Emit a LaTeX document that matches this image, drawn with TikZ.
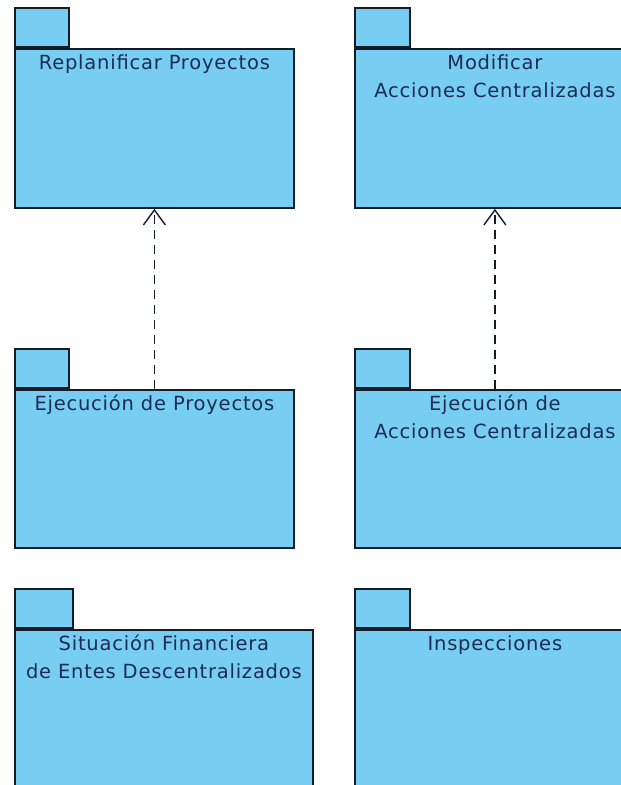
\documentclass[tikz,border=0pt]{standalone}
\usepackage{fontspec}
\setmainfont{DejaVu Sans}[LetterSpace=4.0]
\usetikzlibrary{arrows.meta}
\definecolor{pkgfill}{RGB}{120,205,242}
\definecolor{pkgtext}{RGB}{28,44,84}
\definecolor{pkgline}{RGB}{20,28,40}
\tikzset{
  pkgbody/.style={draw=pkgline, fill=pkgfill, line width=1.8pt, rectangle, inner sep=0pt, anchor=north west},
  pkgtab/.style={draw=pkgline, fill=pkgfill, line width=1.8pt, rectangle, inner sep=0pt, anchor=south west, minimum height=39pt},
  pkglabel/.style={anchor=north, inner sep=0pt, text=pkgtext, font=\fontsize{19.5}{28}\selectfont, align=center, yshift=-6pt},
  dep/.style={draw=pkgline, line width=1.4pt, dash pattern=on 9pt off 6pt, -{Straight Barb[length=15pt,width=22pt,line width=1.4pt]}}
}
\begin{document}
\begin{tikzpicture}[x=1pt,y=-1pt]
\useasboundingbox (0,0) rectangle (621,785);
\clip (0,0) rectangle (621,785);
\fill[white] (0,0) rectangle (621,785);
% row 1
\node[pkgbody, minimum width=279pt, minimum height=159pt] (p1) at (14,48) {};
\node[pkgtab, minimum width=54pt] (t1) at (p1.north west) {};
\node[pkglabel] (l1) at (p1.north) {Replanificar Proyectos};
\node[pkgbody, minimum width=280pt, minimum height=159pt] (p2) at (354,48) {};
\node[pkgtab, minimum width=55pt] (t2) at (p2.north west) {};
\node[pkglabel] (l2) at (p2.north) {Modificar\\Acciones Centralizadas};
% row 2
\node[pkgbody, minimum width=279pt, minimum height=158pt] (p3) at (14,389) {};
\node[pkgtab, minimum width=54pt] (t3) at (p3.north west) {};
\node[pkglabel] (l3) at (p3.north) {Ejecución de Proyectos};
\node[pkgbody, minimum width=280pt, minimum height=158pt] (p4) at (354,389) {};
\node[pkgtab, minimum width=55pt] (t4) at (p4.north west) {};
\node[pkglabel] (l4) at (p4.north) {Ejecución de\\Acciones Centralizadas};
% row 3
\node[pkgbody, minimum width=298pt, minimum height=160pt] (p5) at (14,629) {};
\node[pkgtab, minimum width=58pt] (t5) at (p5.north west) {};
\node[pkglabel] (l5) at (p5.north) {Situación Financiera\\de Entes Descentralizados};
\node[pkgbody, minimum width=280pt, minimum height=160pt] (p6) at (354,629) {};
\node[pkgtab, minimum width=55pt] (t6) at (p6.north west) {};
\node[pkglabel] (l6) at (p6.north) {Inspecciones};
% dependencies
\draw[dep] (p3.north) -- (p1.south);
\draw[dep] (p4.north) -- (p2.south);
\end{tikzpicture}
\end{document}
